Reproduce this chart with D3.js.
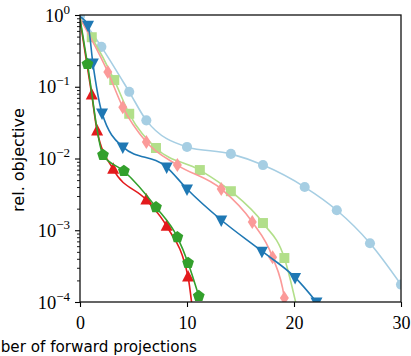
<!DOCTYPE html>
<html><head><meta charset="utf-8">
<script src="https://cdn.jsdelivr.net/npm/d3@7"></script>
<style>body{margin:0;background:#fff}svg{display:block}</style>
</head><body><svg id="c" width="411" height="356"></svg>
<script>
// ---- data ----
const xTickValues = [0, 10, 20, 30];
const yTickExponents = [0, -1, -2, -3, -4];

const lightBlueX = [0, 2.0, 4.6, 6.2, 10.0, 14.1, 17.1, 21.0, 24.0, 27.1, 30.0];
const lightBlueY = [0.97, 0.36, 0.085, 0.034, 0.0145, 0.0116, 0.0081, 0.0040, 0.0019, 0.00066, 0.000175];

const lightGreenX = [0, 1.1, 3.2, 4.6, 7.1, 11.2, 14.1, 17.1, 19.1, 20.3];
const lightGreenY = [0.9, 0.49, 0.124, 0.042, 0.014, 0.0069, 0.0035, 0.00126, 0.00041, 0.00008];

const pinkX = [0, 2.6, 4.0, 6.2, 9.1, 13.2, 16.1, 18.0, 19.1, 19.3];
const pinkY = [0.9, 0.161, 0.052, 0.017, 0.0081, 0.00376, 0.0013, 0.00042, 0.000114, 0.00007];

const blueX = [0, 0.75, 1.2, 2.06, 4.0, 8.1, 10.0, 13.2, 17.0, 20.1, 22.1];
const blueY = [0.95, 0.72, 0.214, 0.043, 0.0145, 0.0076, 0.00376, 0.00139, 0.00051, 0.00022, 0.0001];

const redX = [0, 1.1, 1.6, 3.1, 6.2, 8.1, 10.1, 10.5];
const redY = [0.85, 0.077, 0.0242, 0.0071, 0.00264, 0.00114, 0.000223, 0.00008];

const greenX = [0, 0.7, 2.15, 4.1, 7.1, 9.1, 10.1, 11.1];
const greenY = [0.9, 0.207, 0.0112, 0.0067, 0.0021, 0.0008, 0.00035, 0.000121];

const seriesList = [
  {x: lightBlueX, y: lightBlueY, color: "#a6cee3", marker: "circle", firstMarker: true},
  {x: lightGreenX, y: lightGreenY, color: "#b2df8a", marker: "square", firstMarker: false},
  {x: pinkX, y: pinkY, color: "#fb9a99", marker: "diamond", firstMarker: false},
  {x: blueX, y: blueY, color: "#1f78b4", marker: "tridown", firstMarker: false},
  {x: redX, y: redY, color: "#e31a1c", marker: "triup", firstMarker: false},
  {x: greenX, y: greenY, color: "#33a02c", marker: "pentagon", firstMarker: false}
];

// ---- layout ----
const L = 80, R = 401, T = 15, B = 302;
const svg = d3.select("#c");
const x = d3.scaleLinear().domain([0, 30]).range([L, R]);
const y = d3.scaleLog().domain([1e-4, 1]).range([B, T]);

svg.append("defs").append("clipPath").attr("id", "clip")
  .append("rect").attr("x", L).attr("y", T).attr("width", R - L).attr("height", B - T);

function markerPath(t) {
  if (t === "circle") return d3.symbol(d3.symbolCircle, 80)();
  if (t === "square") return "M-5,-5H5V5H-5Z";
  if (t === "diamond") return "M0,-7L4.5,0L0,7L-4.5,0Z";
  if (t === "triup") return "M0,-7L6,4.5L-6,4.5Z";
  if (t === "tridown") return "M0,7L6,-4.5L-6,-4.5Z";
  if (t === "pentagon") {
    const r = 6.2, pts = [];
    for (let i = 0; i < 5; i++) {
      const a = -Math.PI / 2 + i * 2 * Math.PI / 5;
      pts.push([r * Math.cos(a), r * Math.sin(a)]);
    }
    return "M" + pts.map(p => p.join(",")).join("L") + "Z";
  }
}

const plot = svg.append("g").attr("clip-path", "url(#clip)");
const line = d3.line().x(d => x(d[0])).y(d => y(d[1])).curve(d3.curveMonotoneX);

seriesList.forEach(s => {
  const pts = s.x.map((v, i) => [v, s.y[i]]);
  const g = plot.append("g");
  g.append("path").attr("d", line(pts)).attr("fill", "none")
    .attr("stroke", s.color).attr("stroke-width", 1.6);
  const mpts = s.firstMarker ? pts : pts.slice(1);
  g.selectAll("path.m").data(mpts).enter().append("path").attr("class", "m")
    .attr("d", markerPath(s.marker))
    .attr("transform", d => `translate(${x(d[0])},${y(d[1])})`)
    .attr("fill", s.color);
});

// ---- axes ----
const serif = "'Liberation Serif', 'DejaVu Serif', serif";
const xAxis = d3.axisBottom(x).tickValues(xTickValues).tickSize(5).tickPadding(3).tickFormat(d3.format("d"));
const gx = svg.append("g").attr("transform", `translate(0,${B})`).call(xAxis);
gx.select(".domain").remove();
gx.selectAll("line").attr("stroke", "#000").attr("stroke-width", 1.1);
gx.selectAll("text").attr("font-family", serif).attr("font-size", 18).attr("fill", "#000")
  .attr("dy", null).attr("y", 27);

const majors = yTickExponents.map(e => Math.pow(10, e));
const minors = [];
for (let e = -4; e < 0; e++) for (let k = 2; k <= 9; k++) minors.push(k * Math.pow(10, e));

const gyMinor = svg.append("g").attr("transform", `translate(${L},0)`)
  .call(d3.axisLeft(y).tickValues(minors).tickSize(3).tickFormat(""));
gyMinor.select(".domain").remove();
gyMinor.selectAll("line").attr("stroke", "#000").attr("stroke-width", 0.9);

const gy = svg.append("g").attr("transform", `translate(${L},0)`)
  .call(d3.axisLeft(y).tickValues(majors).tickSize(5).tickFormat(""));
gy.select(".domain").remove();
gy.selectAll("line").attr("stroke", "#000").attr("stroke-width", 1.1);
gy.selectAll(".tick").each(function(d) {
  const e = Math.round(Math.log10(d));
  const t = d3.select(this).append("text").attr("x", -10).attr("y", 6)
    .attr("text-anchor", "end").attr("font-family", serif).attr("font-size", 18.5).attr("fill", "#000");
  t.append("tspan").text("10");
  t.append("tspan").attr("dy", -8).attr("font-size", 13).text(e === 0 ? "0" : "\u2212" + Math.abs(e));
});

// frame
svg.append("rect").attr("x", L).attr("y", T).attr("width", R - L).attr("height", B - T)
  .attr("fill", "none").attr("stroke", "#111").attr("stroke-width", 1.3);

// labels
const sans = "'DejaVu Sans', sans-serif";
svg.append("text").attr("transform", "translate(23.5,160) rotate(-90)")
  .attr("text-anchor", "middle").attr("font-family", sans).attr("font-size", 16).attr("fill", "#000")
  .text("rel. objective");
svg.append("text").attr("x", 197).attr("y", 352).attr("text-anchor", "end")
  .attr("font-family", sans).attr("font-size", 15.2).attr("fill", "#000")
  .text("Number of forward projections");
</script></body></html>
